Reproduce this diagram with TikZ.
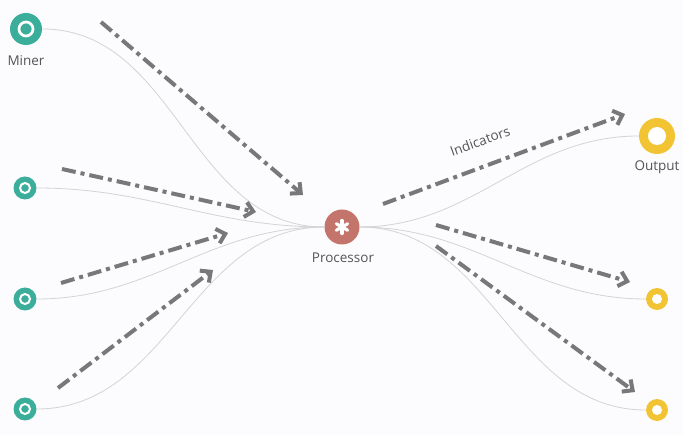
\documentclass[tikz,border=0pt]{standalone}
\usepackage{fontspec}
\setmainfont{Open Sans}
\usetikzlibrary{arrows.meta}
\definecolor{srccol}{RGB}{58,174,155}
\definecolor{proccol}{RGB}{196,117,107}
\definecolor{outcol}{RGB}{242,196,52}
\definecolor{flowcol}{RGB}{212,212,212}
\definecolor{dashcol}{RGB}{120,120,120}
\definecolor{txtcol}{RGB}{85,85,85}
\definecolor{bgcol}{RGB}{252,252,254}
\begin{document}
\begin{tikzpicture}[x=1pt, y=-1pt,
    src/.style={circle, fill=srccol, inner sep=0pt, minimum size=23pt},
    sink/.style={circle, fill=outcol, inner sep=0pt, minimum size=22pt},
    flow/.style={draw=flowcol, line width=0.8pt},
    dd/.style={draw=dashcol, line width=4pt, dash pattern=on 14pt off 5pt on 4pt off 5pt,
      -{Straight Barb[length=8pt, width=15pt]}},
    lbl/.style={text=txtcol, font=\fontsize{13.5}{16}\selectfont}]
    \useasboundingbox[fill=bgcol] (0,0) rectangle (683,435);
    % sources
    \node[src, minimum size=32pt] (miner) at (26,29) {};
    \node[src] (src2) at (25,188) {};
    \node[src] (src3) at (25,299) {};
    \node[src] (src4) at (25,409) {};
    % processor and outputs
    \node[circle, fill=proccol, inner sep=0pt, minimum size=35pt] (proc) at (342,227) {};
    \node[sink, minimum size=36pt] (out) at (657,136) {};
    \node[sink] (sink2) at (657,299) {};
    \node[sink] (sink3) at (657,410) {};
    % flows
    \begin{scope}[out=0, in=180]
        \draw[flow] (miner.east) to (proc.west);
        \draw[flow] (src2.east) to (proc.west);
        \draw[flow] (src3.east) to (proc.west);
        \draw[flow] (src4.east) to (proc.west);
        \draw[flow] (proc.east) to (out.west);
        \draw[flow] (proc.east) to (sink2.west);
        \draw[flow] (proc.east) to (sink3.west);
    \end{scope}
    % rings and star
    \draw[white, line width=2.7pt] (miner.center) circle (7pt);
    \foreach \n in {src2,src3,src4}
        \draw[white, line width=2pt] (\n.center) circle (5pt);
    \fill[white] (out.center) circle (9pt);
    \foreach \n in {sink2,sink3}
        \fill[white] (\n.center) circle (5pt);
    \foreach \a in {90,30,-30}
        \draw[white, line width=3.2pt, line cap=round]
            ([shift={(\a:6.5pt)}]proc.center) -- ([shift={(\a+180:6.5pt)}]proc.center);
    % labels
    \node[lbl] at (26,61) {Miner};
    \node[lbl] at (343,258) {Processor};
    \node[lbl] at (657,167) {Output};
    \node[lbl, rotate=20] at (480,141) {Indicators};
    % dash-dot arrows
    \coordinate (a1) at (101,22);  \coordinate (b1) at (303,195);
    \coordinate (a2) at (62,169);  \coordinate (b2) at (256,212);
    \coordinate (a3) at (61,283);  \coordinate (b3) at (228,233);
    \coordinate (a4) at (58,388);  \coordinate (b4) at (213,270);
    \coordinate (a5) at (383,204); \coordinate (b5) at (625,114);
    \coordinate (a6) at (436,225); \coordinate (b6) at (630,282);
    \coordinate (a7) at (436,246); \coordinate (b7) at (635,392);
    \foreach \i in {1,...,7}
        \draw[dd] (a\i) -- (b\i);
\end{tikzpicture}
\end{document}
